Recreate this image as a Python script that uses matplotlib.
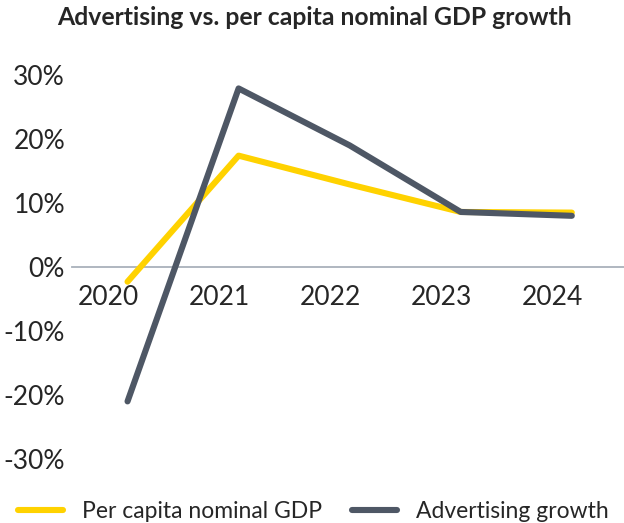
import matplotlib
matplotlib.use("Agg")
import matplotlib.pyplot as plt
import matplotlib.transforms as mtransforms
from matplotlib.ticker import FuncFormatter

years = [2020, 2021, 2022, 2023, 2024]
gdp_growth = [-2.3, 17.4, 12.9, 8.6, 8.5]
ad_growth = [-21.0, 27.9, 19.0, 8.6, 8.0]
y_ticks = [-30, -20, -10, 0, 10, 20, 30]

YELLOW = "#FFD200"
SLATE = "#4E5765"
TEXT = "#262626"

plt.rcParams["font.family"] = ["Lato", "DejaVu Sans"]

fig = plt.figure(figsize=(6.24, 5.23), dpi=100)
ax = fig.add_axes([72 / 624, 64 / 523, 552 / 624, 384 / 523])

ax.plot(years, gdp_growth, color=YELLOW, lw=4.4, solid_capstyle="round",
        solid_joinstyle="round", label="Per capita nominal GDP", clip_on=False, zorder=3)
ax.plot(years, ad_growth, color=SLATE, lw=4.4, solid_capstyle="round",
        solid_joinstyle="round", label="Advertising growth", clip_on=False, zorder=4)

ax.set_xlim(2019.5, 2024.47)
ax.set_ylim(-30, 30)
ax.set_yticks(y_ticks)
ax.yaxis.set_major_formatter(FuncFormatter(lambda v, _: f"{v:.0f}%"))
ax.set_xticks(years)
ax.set_xticklabels([str(y) for y in years])

# zero line doubles as the category axis
for side in ("top", "right", "left"):
    ax.spines[side].set_visible(False)
ax.spines["bottom"].set_position(("data", 0))
ax.spines["bottom"].set_color("#A9B1BB")
ax.spines["bottom"].set_linewidth(1.3)
ax.tick_params(axis="both", length=0, labelsize=19, labelcolor=TEXT)
ax.tick_params(axis="x", pad=13)
ax.tick_params(axis="y", pad=5)

# year labels sit a little left of their points
shift = mtransforms.ScaledTranslation(-19 / 100, 0, fig.dpi_scale_trans)
for lbl in ax.get_xticklabels():
    lbl.set_transform(lbl.get_transform() + shift)

fig.text(57 / 624, 1 - 6 / 523, "Advertising vs. per capita nominal GDP growth",
         ha="left", va="top", fontsize=17.8, fontweight="bold", color=TEXT)

fig.legend(loc="lower left", bbox_to_anchor=(18 / 624, 1 / 523), ncol=2, frameon=False,
           fontsize=16.5, handlelength=1.95, handletextpad=0.85, columnspacing=1.3,
           borderpad=0, borderaxespad=0, labelcolor=TEXT)

fig.savefig("out.png", dpi=100)
